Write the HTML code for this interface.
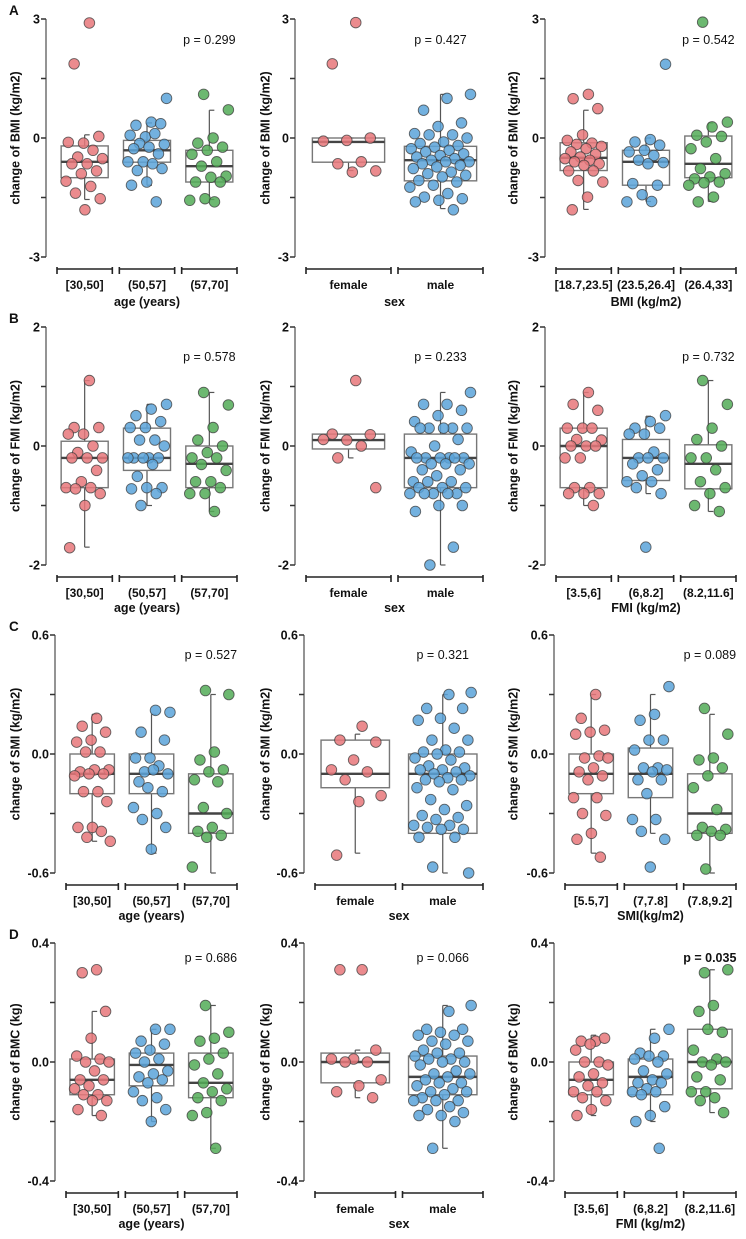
<!DOCTYPE html>
<html><head><meta charset="utf-8"><style>
html,body{margin:0;padding:0;background:#fff;}
svg{display:block;font-family:"Liberation Sans",Arial,sans-serif;}
</style></head><body>
<svg id="fig" width="746" height="1239" viewBox="0 0 746 1239" xmlns="http://www.w3.org/2000/svg"></svg>
<script>
// ---- data ----
const catsAge = ["[30,50]","(50,57]","(57,70]"];
const catsSex = ["female","male"];
const catsBMI = ["[18.7,23.5]","(23.5,26.4]","(26.4,33]"];
const catsFMI = ["[3.5,6]","(6,8.2]","(8.2,11.6]"];
const catsSMI = ["[5.5,7]","(7,7.8]","(7.8,9.2]"];

// box stats per group: [lowWhisker, q1, median, q3, highWhisker]
const boxA1 = [[-1.55,-1.0,-0.6,-0.2,0.08],[-1.19,-0.61,-0.31,-0.06,0.38],[-1.55,-1.11,-0.71,-0.31,0.7]];
const boxA2 = [[-0.82,-0.61,-0.1,0,0],[-1.78,-1.08,-0.56,-0.21,1.1]];
const boxA3 = [[-1.8,-0.82,-0.5,-0.12,0.7],[-1.6,-1.19,-0.6,-0.31,0],[-1.6,-1.0,-0.65,0.05,0.38]];
const boxB1 = [[-1.7,-0.7,-0.2,0.08,1.1],[-1.0,-0.41,-0.2,0.3,0.7],[-1.1,-0.7,-0.3,0,0.9]];
const boxB2 = [[-0.2,-0.05,0.1,0.2,0.2],[-2.0,-0.7,-0.2,0.2,0.9]];
const boxB3 = [[-1.0,-0.7,0,0.3,0.9],[-0.8,-0.58,-0.2,0.11,0.5],[-1.1,-0.72,-0.3,0.02,1.1]];
const boxC1 = [[-0.44,-0.2,-0.1,0,0.2],[-0.5,-0.2,-0.1,0,0.2],[-0.6,-0.4,-0.3,-0.1,0.3]];
const boxC2 = [[-0.5,-0.17,-0.1,0.07,0.1],[-0.6,-0.4,-0.1,0,0.3]];
const boxC3 = [[-0.5,-0.2,-0.1,0,0.3],[-0.4,-0.22,-0.1,0.03,0.3],[-0.6,-0.4,-0.3,-0.1,0.2]];
const boxD1 = [[-0.18,-0.11,-0.06,0.01,0.17],[-0.2,-0.08,-0.01,0.03,0.11],[-0.29,-0.12,-0.07,0.03,0.19]];
const boxD2 = [[-0.12,-0.07,0,0.03,0.04],[-0.29,-0.11,-0.05,0.02,0.19]];
const boxD3 = [[-0.18,-0.11,-0.06,0,0.09],[-0.2,-0.11,-0.05,0.01,0.11],[-0.17,-0.09,0,0.11,0.31]];

// individual points per group
const ptsA1 = [
 [2.9,1.87,0.04,-0.13,-0.11,-0.31,-0.48,-0.52,-0.65,-0.65,-0.83,-0.9,-1.09,-1.22,-1.39,-1.53,-1.81],
 [1.0,0.4,0.32,0.36,0.03,0.07,0.11,-0.14,-0.16,-0.23,-0.27,-0.4,-0.6,-0.6,-0.65,-0.82,-0.77,-1.11,-1.19,-1.61],
 [1.1,0.71,0.0,-0.13,-0.23,-0.31,-0.41,-0.6,-0.71,-0.96,-0.99,-1.11,-1.11,-1.53,-1.57,-1.61]];
const ptsA2 = [
 [2.91,1.87,0.0,-0.06,-0.08,-0.6,-0.65,-0.83,-0.86],
 [1.1,1.0,0.7,0.38,0.29,0.11,0.08,0.08,0.0,-0.1,-0.14,-0.19,-0.23,-0.27,-0.31,-0.35,-0.4,-0.44,-0.48,-0.52,-0.56,-0.6,-0.6,-0.65,-0.69,-0.73,-0.77,-0.86,-0.9,-0.94,-0.98,-1.07,-1.11,-1.19,-1.24,-1.4,-1.49,-1.53,-1.57,-1.61,-1.81]];
const ptsA3 = [
 [1.1,0.99,0.74,0.08,-0.06,-0.13,-0.16,-0.21,-0.27,-0.35,-0.41,-0.48,-0.52,-0.56,-0.6,-0.65,-0.69,-0.83,-0.83,-1.07,-1.11,-1.49,-1.81],
 [1.86,-0.04,-0.1,-0.18,-0.31,-0.35,-0.44,-0.56,-0.62,-0.65,-1.15,-1.19,-1.43,-1.61,-1.6],
 [2.92,0.4,0.28,0.07,0.04,-0.1,-0.27,-0.52,-0.77,-0.9,-0.98,-1.03,-1.11,-1.13,-1.19,-1.49,-1.61]];
const ptsB1 = [
 [1.1,0.31,0.31,0.2,0.2,0.0,-0.11,-0.2,-0.2,-0.2,-0.41,-0.6,-0.7,-0.7,-0.72,-0.8,-1.0,-1.71],
 [0.7,0.62,0.51,0.41,0.31,0.31,0.1,0.1,0,-0.2,-0.2,-0.2,-0.2,-0.2,-0.31,-0.51,-0.7,-0.7,-0.72,-0.8,-1.0],
 [0.9,0.69,0.31,0.1,0.0,-0.11,-0.2,-0.2,-0.31,-0.41,-0.6,-0.6,-0.7,-0.8,-0.8,-1.1]];
const ptsB2 = [
 [1.1,0.2,0.19,0.1,0.11,0.0,-0.2,-0.7],
 [0.9,0.7,0.7,0.6,0.51,0.41,0.3,0.3,0.3,0.3,0.3,0.11,0.0,-0.1,-0.2,-0.2,-0.2,-0.2,-0.2,-0.2,-0.3,-0.3,-0.3,-0.4,-0.4,-0.5,-0.6,-0.6,-0.6,-0.7,-0.7,-0.7,-0.8,-0.8,-0.8,-0.8,-0.8,-1.0,-1.0,-1.1,-1.7,-2.0]];
const ptsB3 = [
 [0.9,0.7,0.6,0.3,0.3,0.3,0.11,0.1,0,0,0,-0.2,-0.2,-0.7,-0.7,-0.8,-0.8,-0.8,-1.0],
 [0.51,0.41,0.3,0.3,0.2,0.2,-0.1,-0.2,-0.2,-0.2,-0.3,-0.4,-0.5,-0.6,-0.6,-0.7,-0.8,-1.7],
 [1.1,0.7,0.3,0.11,0.0,-0.2,-0.2,-0.4,-0.6,-0.7,-0.8,-1.0,-1.1]];
const ptsC1 = [
 [0.18,0.14,0.11,0.07,0.06,0.01,0.01,-0.08,-0.08,-0.09,-0.1,-0.1,-0.11,-0.19,-0.19,-0.24,-0.37,-0.37,-0.39,-0.42,-0.44],
 [0.21,0.22,0.11,0.07,-0.02,-0.02,-0.06,-0.09,-0.1,-0.08,-0.14,-0.19,-0.17,-0.27,-0.3,-0.33,-0.37,-0.48],
 [0.32,0.3,0.01,-0.03,-0.08,-0.09,-0.13,-0.14,-0.27,-0.3,-0.37,-0.39,-0.41,-0.42,-0.57]];
const ptsC2 = [
 [0.14,0.07,0.06,-0.03,-0.08,-0.09,-0.13,-0.21,-0.24,-0.51],
 [0.31,0.3,0.23,0.23,0.18,0.17,0.13,0.07,0.07,0.02,0.01,0.01,0,-0.02,-0.03,-0.06,-0.07,-0.08,-0.08,-0.09,-0.1,-0.11,-0.12,-0.13,-0.13,-0.14,-0.17,-0.18,-0.23,-0.26,-0.28,-0.31,-0.32,-0.33,-0.36,-0.36,-0.37,-0.38,-0.38,-0.42,-0.42,-0.57,-0.6]];
const ptsC3 = [
 [0.3,0.18,0.12,0.11,0.1,-0.01,-0.02,-0.02,-0.07,-0.09,-0.11,-0.13,-0.22,-0.22,-0.3,-0.31,-0.4,-0.43,-0.52],
 [0.34,0.2,0.17,0.07,0.07,0.02,-0.07,-0.07,-0.08,-0.09,-0.13,-0.13,-0.2,-0.33,-0.33,-0.39,-0.43,-0.57],
 [0.23,0.1,-0.02,-0.03,-0.07,-0.11,-0.17,-0.28,-0.37,-0.38,-0.39,-0.41,-0.41,-0.58]];
const ptsD1 = [
 [0.31,0.3,0.17,0.08,0.02,0.01,0,0,-0.03,-0.06,-0.06,-0.08,-0.09,-0.11,-0.11,-0.13,-0.13,-0.16,-0.18],
 [0.11,0.11,0.07,0.06,0.04,0.03,0.01,0,-0.03,-0.04,-0.05,-0.06,-0.07,-0.1,-0.12,-0.13,-0.16,-0.2],
 [0.19,0.1,0.08,0.07,0.03,0.01,-0.01,-0.04,-0.07,-0.09,-0.1,-0.12,-0.13,-0.17,-0.18,-0.29]];
const ptsD2 = [
 [0.31,0.31,0.04,0.01,0.01,0,0,-0.06,-0.08,-0.1,-0.12],
 [0.19,0.17,0.11,0.11,0.1,0.09,0.09,0.07,0.07,0.06,0.04,0.03,0.03,0.02,0.01,0.01,0,0,-0.01,-0.03,-0.04,-0.04,-0.05,-0.06,-0.07,-0.07,-0.08,-0.09,-0.1,-0.1,-0.11,-0.12,-0.13,-0.13,-0.13,-0.15,-0.16,-0.17,-0.18,-0.18,-0.2,-0.29]];
const ptsD3 = [
 [0.07,0.07,0.08,0.06,0.04,0,0,-0.01,-0.04,-0.05,-0.07,-0.08,-0.1,-0.1,-0.12,-0.13,-0.16,-0.18],
 [0.11,0.08,0.03,0.02,0.02,0.01,0,-0.03,-0.04,-0.06,-0.07,-0.07,-0.09,-0.1,-0.1,-0.11,-0.15,-0.18,-0.2,-0.29],
 [0.3,0.31,0.19,0.17,0.1,0.11,0.04,0.01,0,0,-0.01,-0.05,-0.06,-0.1,-0.1,-0.12,-0.13,-0.17]];

const ticksA = ["3","0","-3"], ticksB = ["2","0","-2"], ticksC = ["0.6","0.0","-0.6"], ticksD = ["0.4","0.0","-0.4"];
const pValues = ["p = 0.299","p = 0.427","p = 0.542","p = 0.578","p = 0.233","p = 0.732","p = 0.527","p = 0.321","p = 0.089","p = 0.686","p = 0.066","p = 0.035"];

// ---- drawing ----
const NS = "http://www.w3.org/2000/svg";
const svg = document.getElementById('fig');
function mk(tag, attrs, parent){
  const e = document.createElementNS(NS, tag);
  for (const k in attrs) e.setAttribute(k, attrs[k]);
  (parent||svg).appendChild(e); return e;
}
function txt(s, attrs, parent){ const t = mk('text', attrs, parent); t.textContent = s; return t; }
const fills = ["#e8777a","#5ba3d9","#52ac57"];

function panel(cfg){
  const g = mk('g', {});
  
  
  const top = cfg.top, yTop = top + 19, yBot = top + 257;
  const ymax = cfg.ymax;
  const yS = v => yTop + (ymax - v) / (2*ymax) * (yBot - yTop);
  const ax = cfg.axisX;
  // y axis
  const axis = mk('line', {x1:ax, y1:yTop, x2:ax, y2:yBot, stroke:'#7a7a7a', 'stroke-width':1.6}, g);
  
  
  const tickVals = [ymax, ymax/2, 0, -ymax/2, -ymax];
  tickVals.forEach((v, i) => {
    mk('line', {x1:ax-5, y1:yS(v), x2:ax, y2:yS(v), stroke:'#333', 'stroke-width':1.5}, g);
    if (i % 2 === 0) {
      const t = txt(cfg.ticks[i/2], {x:ax-6, y:yS(v)+4.5, 'text-anchor':'end', 'font-size':12.5, 'font-weight':'bold', fill:'#111'}, g);
      
      
    }
  });
  const ty = top + 138;
  const yt = txt(cfg.ytitle, {x:0, y:0, transform:`translate(${cfg.titleX},${ty}) rotate(-90)`, 'text-anchor':'middle', 'font-size':12.5, 'font-weight':'bold', fill:'#111', 'dominant-baseline':'middle'}, g);
  
  
  // groups
  const n = cfg.cats.length, start = ax + 11, end = cfg.end, gap = 7;
  const segW = (end - start - gap*(n-1)) / n;
  const by = top + 269;
  let lastC = 0;
  cfg.cats.forEach((c, gi) => {
    const s = start + gi*(segW+gap), cx = s + segW/2; lastC = cx;
    const col = cfg.n2 ? fills[gi] : fills[gi];
    mk('path', {d:`M${s},${by+5}V${by-2}M${s},${by}H${s+segW}M${s+segW},${by+5}V${by-2}`, stroke:'#222', 'stroke-width':1.6, fill:'none'}, g);
    const cl = txt(c, {x:cx, y:by+20, 'text-anchor':'middle', 'font-size':12, 'font-weight':'bold', fill:'#111'}, g);
    
    
    const b = cfg.box[gi], bw = segW*0.85;
    const bg = mk('g', {}, g);
    
    
    mk('line', {x1:cx, y1:yS(b[4]), x2:cx, y2:yS(b[3]), stroke:'#555', 'stroke-width':1.2}, bg);
    mk('line', {x1:cx, y1:yS(b[1]), x2:cx, y2:yS(b[0]), stroke:'#555', 'stroke-width':1.2}, bg);
    mk('line', {x1:cx, y1:yS(b[4]), x2:cx+5, y2:yS(b[4]), stroke:'#555', 'stroke-width':1.2}, bg);
    mk('line', {x1:cx, y1:yS(b[0]), x2:cx+5, y2:yS(b[0]), stroke:'#555', 'stroke-width':1.2}, bg);
    mk('rect', {x:cx-bw/2, y:yS(b[3]), width:bw, height:Math.max(1, yS(b[1])-yS(b[3])), fill:'none', stroke:'#777', 'stroke-width':1.4}, bg);
    mk('line', {x1:cx-bw/2, y1:yS(b[2]), x2:cx+bw/2, y2:yS(b[2]), stroke:'#444', 'stroke-width':2.4}, bg);
    cfg.pts[gi].forEach((v, i) => {
      const jit = (((i+1)*0.6180339 + gi*0.37) % 1 - 0.5) * bw * 0.85;
      const p = mk('circle', {cx:cx+jit, cy:yS(v), r:5.3, fill:col, 'fill-opacity':0.85, stroke:'#3a3a3a', 'stroke-opacity':0.75, 'stroke-width':0.9}, g);
      
      
    });
  });
  const xt = txt(cfg.xtitle, {x:(start+end)/2, y:top+cfg.xtY, 'text-anchor':'middle', 'font-size':12.5, 'font-weight':'bold', fill:'#111'}, g);
  
  
  const pt = txt(cfg.p, {x:lastC, y:top+cfg.pY, 'text-anchor':'middle', 'font-size':12.5, 'font-weight':cfg.pBold?'bold':'normal', fill:'#111'}, g);
  
  
}

const rows = [
 {top:0, letter:'A', ticks:ticksA, ymax:3, yt:'change of BMI (kg/m2)', sets:[[catsAge,boxA1,ptsA1,'age (years)'],[catsSex,boxA2,ptsA2,'sex'],[catsBMI,boxA3,ptsA3,'BMI (kg/m2)']], ax:[46,295,545], pY:44, xtY:306},
 {top:308, letter:'B', ticks:ticksB, ymax:2, yt:'change of FMI (kg/m2)', sets:[[catsAge,boxB1,ptsB1,'age (years)'],[catsSex,boxB2,ptsB2,'sex'],[catsFMI,boxB3,ptsB3,'FMI (kg/m2)']], ax:[46,295,545], pY:53, xtY:304},
 {top:616, letter:'C', ticks:ticksC, ymax:0.6, yt:'change of SMI (kg/m2)', sets:[[catsAge,boxC1,ptsC1,'age (years)'],[catsSex,boxC2,ptsC2,'sex'],[catsSMI,boxC3,ptsC3,'SMI(kg/m2)']], ax:[55,304,554], pY:43, xtY:304},
 {top:924, letter:'D', ticks:ticksD, ymax:0.4, yt:'change of BMC (kg)', sets:[[catsAge,boxD1,ptsD1,'age (years)'],[catsSex,boxD2,ptsD2,'sex'],[catsFMI,boxD3,ptsD3,'FMI (kg/m2)']], ax:[55,304,554], pY:38, xtY:304}
];
const titleXs = [16, 266, 514];
const ends = [237, 483, 736];
rows.forEach((r, ri) => {
  const L = txt(r.letter, {x:9, y:r.top+15, 'font-size':13.5, 'font-weight':'bold', fill:'#111'});
  
  
  r.sets.forEach((s, ci) => {
    panel({name:'panel-' + r.letter + (ci+1), top:r.top, axisX:r.ax[ci], end:ends[ci], ymax:r.ymax, ticks:r.ticks,
      ytitle:r.yt, titleX:titleXs[ci], cats:s[0], box:s[1], pts:s[2], xtitle:s[3],
      p:pValues[ri*3+ci], pBold:(ri*3+ci)===11, pY:r.pY, xtY:r.xtY});
  });
});
</script>
</body></html>
